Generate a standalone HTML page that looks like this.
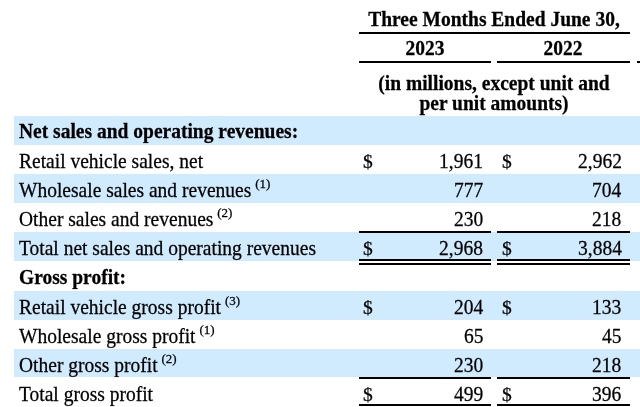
<!DOCTYPE html>
<html><head><meta charset="utf-8"><style>
html,body{margin:0;padding:0;background:#fff;}
.t{will-change:transform;-webkit-text-stroke:0.25px #000;}
body{width:640px;height:407px;position:relative;overflow:hidden;font-family:"Liberation Serif",serif;color:#000;}
.b{position:absolute;background:#d1ebfe;}
.l{position:absolute;background:#000;}
.t{position:absolute;white-space:nowrap;line-height:22px;transform:scaleY(1.035);transform-origin:0 17.58px;}
.r{text-align:right;transform-origin:100% 17.58px;}
.c{text-align:center;transform-origin:50% 17.58px;}
.bb{font-weight:bold;}
.d{display:inline-block;transform:scaleY(0.88);transform-origin:50% 16.38px;}
.s{font-size:13px;vertical-align:top;position:relative;top:-6.6px;margin-left:-1px;}
</style></head><body>
<div class="b" style="left:14px;top:115.50px;width:626px;height:29.00px"></div>
<div class="b" style="left:14px;top:174.00px;width:626px;height:28.70px"></div>
<div class="b" style="left:14px;top:232.40px;width:626px;height:28.60px"></div>
<div class="b" style="left:14px;top:290.60px;width:626px;height:29.10px"></div>
<div class="b" style="left:14px;top:349.10px;width:626px;height:28.30px"></div>
<div class="t c bb" style="left:294.25px;width:400px;top:8.72px;font-size:19.5px">Three Months Ended June 30,</div>
<div class="l" style="left:358.50px;top:31.60px;width:271.50px;height:2px"></div>
<div class="t c bb" style="left:224.85px;width:400px;top:38.22px;font-size:19.5px">2023</div>
<div class="t c bb" style="left:362.60px;width:400px;top:38.22px;font-size:19.5px">2022</div>
<div class="l" style="left:358.50px;top:61.00px;width:132.70px;height:2px"></div>
<div class="l" style="left:497.20px;top:61.00px;width:132.80px;height:2px"></div>
<div class="l" style="left:637.20px;top:61.00px;width:2.80px;height:2px"></div>
<div class="t c bb" style="left:294.00px;width:400px;top:72.72px;font-size:19.5px">(in millions, except unit and</div>
<div class="t c bb" style="left:294.00px;width:400px;top:92.82px;font-size:19.5px">per unit amounts)</div>
<div class="t bb" style="left:19.00px;top:121.22px;font-size:19.5px">Net sales and operating revenues:</div>
<div class="t" style="left:19.00px;top:151.02px;font-size:19.5px">Retail vehicle sales, net</div>
<div class="t" style="left:363.40px;top:151.02px;font-size:19.5px"><span class="d">$</span></div>
<div class="t r" style="right:157.00px;top:151.02px;font-size:19.5px">1,961</div>
<div class="t" style="left:502.00px;top:151.02px;font-size:19.5px"><span class="d">$</span></div>
<div class="t r" style="right:18.50px;top:151.02px;font-size:19.5px">2,962</div>
<div class="t" style="left:19.00px;top:179.82px;font-size:19.5px">Wholesale sales and revenues <span class="s">(1)</span></div>
<div class="t r" style="right:157.00px;top:179.82px;font-size:19.5px">777</div>
<div class="t r" style="right:18.50px;top:179.82px;font-size:19.5px">704</div>
<div class="t" style="left:19.00px;top:208.82px;font-size:19.5px">Other sales and revenues <span class="s">(2)</span></div>
<div class="t r" style="right:157.00px;top:208.82px;font-size:19.5px">230</div>
<div class="t r" style="right:18.50px;top:208.82px;font-size:19.5px">218</div>
<div class="t" style="left:19.00px;top:238.02px;font-size:19.5px">Total net sales and operating revenues</div>
<div class="t" style="left:363.40px;top:238.02px;font-size:19.5px"><span class="d">$</span></div>
<div class="t r" style="right:157.00px;top:238.02px;font-size:19.5px">2,968</div>
<div class="t" style="left:502.00px;top:238.02px;font-size:19.5px"><span class="d">$</span></div>
<div class="t r" style="right:18.50px;top:238.02px;font-size:19.5px">3,884</div>
<div class="t bb" style="left:19.00px;top:267.22px;font-size:19.5px">Gross profit:</div>
<div class="t" style="left:19.00px;top:296.72px;font-size:19.5px">Retail vehicle gross profit <span class="s">(3)</span></div>
<div class="t" style="left:363.40px;top:296.72px;font-size:19.5px"><span class="d">$</span></div>
<div class="t r" style="right:157.00px;top:296.72px;font-size:19.5px">204</div>
<div class="t" style="left:502.00px;top:296.72px;font-size:19.5px"><span class="d">$</span></div>
<div class="t r" style="right:18.50px;top:296.72px;font-size:19.5px">133</div>
<div class="t" style="left:19.00px;top:325.82px;font-size:19.5px">Wholesale gross profit <span class="s">(1)</span></div>
<div class="t r" style="right:157.00px;top:325.82px;font-size:19.5px">65</div>
<div class="t r" style="right:18.50px;top:325.82px;font-size:19.5px">45</div>
<div class="t" style="left:19.00px;top:354.82px;font-size:19.5px">Other gross profit <span class="s">(2)</span></div>
<div class="t r" style="right:157.00px;top:354.82px;font-size:19.5px">230</div>
<div class="t r" style="right:18.50px;top:354.82px;font-size:19.5px">218</div>
<div class="t" style="left:19.00px;top:383.82px;font-size:19.5px">Total gross profit</div>
<div class="t" style="left:363.40px;top:383.82px;font-size:19.5px"><span class="d">$</span></div>
<div class="t r" style="right:157.00px;top:383.82px;font-size:19.5px">499</div>
<div class="t" style="left:502.00px;top:383.82px;font-size:19.5px"><span class="d">$</span></div>
<div class="t r" style="right:18.50px;top:383.82px;font-size:19.5px">396</div>
<div class="l" style="left:358.50px;top:231.30px;width:132.70px;height:2px"></div>
<div class="l" style="left:358.50px;top:258.70px;width:132.70px;height:2.1px"></div>
<div class="l" style="left:358.50px;top:262.60px;width:132.70px;height:2.2px"></div>
<div class="l" style="left:358.50px;top:377.30px;width:132.70px;height:2px"></div>
<div class="l" style="left:358.50px;top:404.40px;width:132.70px;height:2px"></div>
<div class="l" style="left:497.20px;top:231.30px;width:132.80px;height:2px"></div>
<div class="l" style="left:497.20px;top:258.70px;width:132.80px;height:2.1px"></div>
<div class="l" style="left:497.20px;top:262.60px;width:132.80px;height:2.2px"></div>
<div class="l" style="left:497.20px;top:377.30px;width:132.80px;height:2px"></div>
<div class="l" style="left:497.20px;top:404.40px;width:132.80px;height:2px"></div>
</body></html>
